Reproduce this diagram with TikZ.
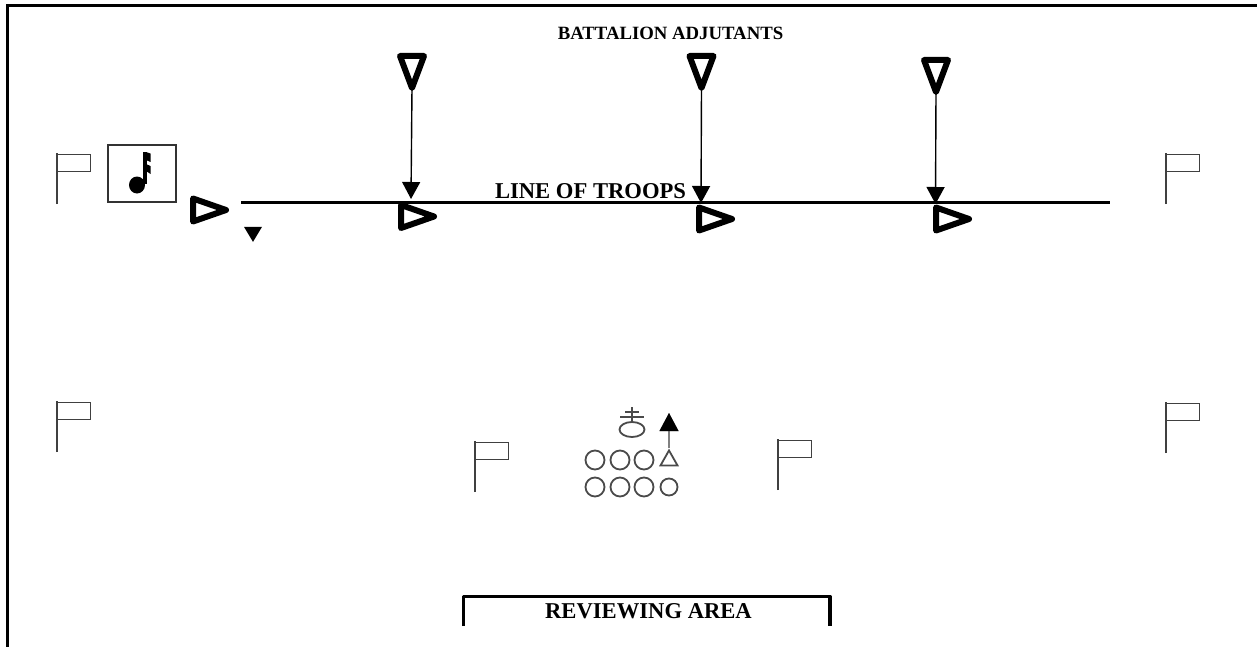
\documentclass[tikz,border=0pt]{standalone}
\usepackage{fontspec}
\setmainfont{Liberation Serif}
\usetikzlibrary{arrows.meta,shapes.geometric}
\tikzset{
    lab/.style={
        font=\fontsize{19.3}{24}\selectfont\bfseries
    }
}

\begin{document}
\begin{tikzpicture}[x=0.03cm,y=-0.03cm]
    \def\px{0.03cm}

    \definecolor{flag-gray}{HTML}{404040}
    \definecolor{mark-gray}{HTML}{4A4A4A}

    \tikzset{
      guidon/.style={
        isosceles triangle,
        isosceles triangle stretches,
        draw=black,
        line width=6*\px,
        line join=round,
        inner sep=0pt,
        outer sep=0pt,
        anchor=apex
      },
      downguidon/.style={guidon, minimum width=24*\px, minimum height=32*\px, shape border rotate=-90},
      rightguidon/.style={guidon, minimum width=23*\px, minimum height=33*\px, shape border rotate=0},
      movearrow/.style={
        -{Triangle[width=18*\px,length=17*\px]},
        line width=1.4*\px
      },
      flagpole/.style={flag-gray, line width=1.2*\px},
      troop/.style={
        circle,
        draw=mark-gray,
        line width=1.8*\px,
        inner sep=0pt,
        minimum size=19*\px
      }
    }

    \useasboundingbox (0,0) rectangle (1257,647);

    % outer frame
    \draw[line width=2.8*\px] (7.5,647) -- (7.5,5.5) -- (1257,5.5);

    \node[lab, font=\fontsize{16}{18}\selectfont\bfseries] (adjutants) at (670.5,33) {BATTALION ADJUTANTS};

    % line of troops
    \coordinate (lineW) at (241,202.5);
    \coordinate (lineE) at (1110,202.5);
    \draw[line width=2.8*\px] (lineW) -- (lineE);
    \node[lab] (troops) at (590.5,191) {LINE OF TROOPS};

    % adjutants and commanders
    \node[downguidon] (adjA) at (412,88) {};
    \node[downguidon] (adjB) at (701.5,88) {};
    \node[downguidon] (adjC) at (936,92) {};
    \node[rightguidon] (cmdA) at (226,210) {};
    \node[rightguidon] (cmdB) at (434,216.5) {};
    \node[rightguidon] (cmdC) at (732,219) {};
    \node[rightguidon] (cmdD) at (969,219) {};

    \coordinate (stopA) at (411,199);
    \coordinate (stopB) at (701,203);
    \coordinate (stopC) at (935.5,204);
    \draw[movearrow] (adjA.apex) -- (stopA);
    \draw[movearrow] (adjB.apex) -- (stopB);
    \draw[movearrow] (adjC.apex) -- (stopC);

    \node[isosceles triangle, isosceles triangle stretches, shape border rotate=-90,
      fill=black, inner sep=0pt, minimum width=18*\px, minimum height=15*\px] (post) at (253,232) {};

    % flags
    \foreach \fx/\fy in {57/153, 1166/153, 57/401, 1166/402, 475/441, 778/439} {
      \draw[flagpole] (\fx,\fy+51) -- (\fx,\fy);
      \draw[flag-gray, line width=0.9*\px] (\fx,\fy+1) rectangle (\fx+33,\fy+18);
      \draw[flag-gray, line width=1.5*\px] (\fx+.3,\fy+1) -- (\fx+.3,\fy+18);
    }

    % band
    \node[draw=black!80, line width=1.2*\px, minimum width=68*\px, minimum height=57*\px,
      inner sep=0pt] (band) at (142,173.5) {};
    \fill (137,185) ellipse (8 and 8.5);
    \fill (142.5,184) rectangle (146.5,152);
    \fill (146,152) -- (150.5,153.5) -- (150.5,162) -- (146,160) -- cycle;
    \fill (146,164) -- (150.5,166) -- (150.5,174) -- (146,171) -- cycle;

    % reviewing party
    \foreach \cx/\cy/\cname in {595/460/a, 620/460/b, 644/460/c, 595/487/d, 620/487/e, 644/487/f} {
      \node[troop] (off\cname) at (\cx,\cy) {};
    }
    \node[troop, minimum size=17*\px] (offg) at (669,487) {};
    \node[isosceles triangle, isosceles triangle stretches, shape border rotate=90,
      draw=mark-gray, line width=1.8*\px, inner sep=0pt, minimum width=17*\px, minimum height=15*\px] (offh) at (669,460.5) {};

    \node[ellipse, draw=mark-gray, line width=1.8*\px, inner sep=0pt,
      minimum width=25*\px, minimum height=15*\px] (reviewer) at (632,429.5) {};
    \draw[mark-gray, line width=1.6*\px] (632,407) -- (reviewer.north);
    \draw[mark-gray, line width=1.6*\px] (625,412) -- (639,412);
    \draw[mark-gray, line width=1.6*\px] (620,417) -- (644,417);

    \coordinate (faceTip) at (669,413);
    \draw[-{Triangle[width=19*\px,length=18*\px]}, mark-gray!70, line width=1.5*\px] (offh.apex) -- (faceTip);
    \fill (669,413) -- (678.5,431) -- (659.5,431) -- cycle;

    % reviewing area
    \draw[line width=3.2*\px, line join=round] (463.5,626) -- (463.5,596.5) -- (830,596.5) -- (830,626);
    \node[lab] (review) at (648.5,611) {REVIEWING AREA};
\end{tikzpicture}
\end{document}
